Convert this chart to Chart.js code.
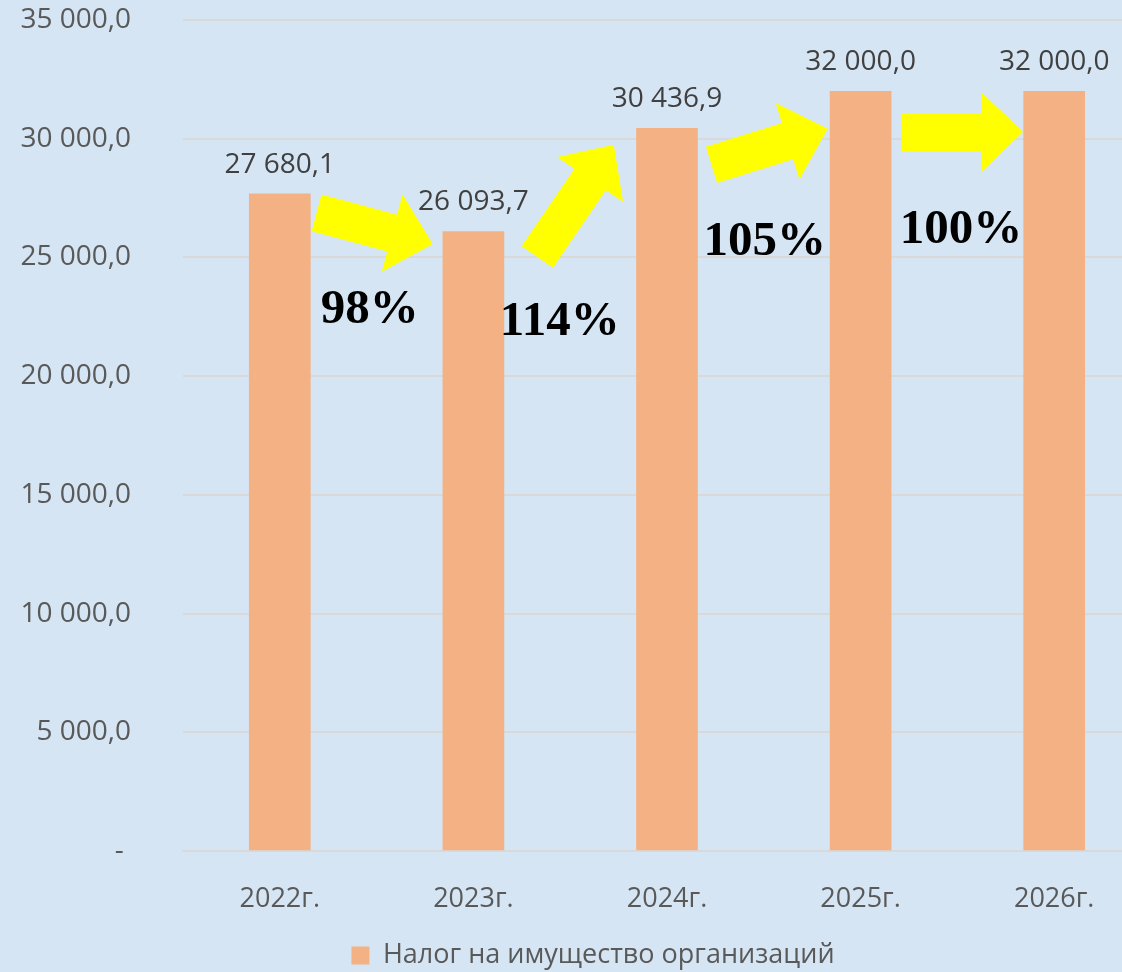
<!DOCTYPE html>
<html lang="ru">
<head>
  <meta charset="UTF-8" />
  <title>Налог на имущество организаций</title>
  <script src="https://cdn.jsdelivr.net/npm/chart.js"></script>
  <style>
    body { margin: 0; padding: 0; background: #D5E5F3; overflow: hidden; }
    .wrap { position: relative; width: 1186px; height: 972px; }
  </style>
</head>
<body>
  <div class="wrap"><canvas id="taxChart"></canvas></div>

  <script>
    const years = ['2022г.', '2023г.', '2024г.', '2025г.', '2026г.'];
    const tax = [27680.1, 26093.7, 30436.9, 32000.0, 32000.0];
    const growth = ['98%', '114%', '105%', '100%'];
    const seriesName = 'Налог на имущество организаций';

    // arrows and growth labels, placed in axis units (category index, value)
    const arrowTail = [[0.19, 26875], [1.33, 25020], [2.23, 28900], [3.21, 30271]];
    const arrowTip  = [[0.79, 25570], [1.725, 29745], [2.83, 30419], [3.84, 30292]];
    const growthAt  = [[0.465, 22783], [1.446, 22276], [2.505, 25650], [3.518, 26158]];

    const TXT = '#595959';
    const SANS = "'Open Sans', sans-serif";

    // 35000 -> "35 000,0"
    function fmt(v) {
      const [i, d] = v.toFixed(1).split('.');
      return i.replace(/\B(?=(\d{3})+(?!\d))/g, ' ') + ',' + d;
    }

    // value labels above bars
    const valueLabels = {
      id: 'valueLabels',
      afterDatasetsDraw(chart) {
        const ctx = chart.ctx;
        ctx.save();
        ctx.font = '28px ' + SANS;
        ctx.fillStyle = '#404040';
        ctx.textAlign = 'center';
        ctx.textBaseline = 'middle';
        chart.getDatasetMeta(0).data.forEach((bar, i) => {
          ctx.fillText(fmt(tax[i]), bar.x, bar.y - 29);
        });
        ctx.restore();
      }
    };

    // yellow arrows + growth percents
    const arrows = {
      id: 'arrows',
      afterDatasetsDraw(chart) {
        const { ctx, scales: { x, y } } = chart;
        const px = p => [x.getPixelForValue(p[0]), y.getPixelForValue(p[1])];
        ctx.save();
        ctx.fillStyle = '#FFFF00';
        arrowTail.forEach((t, i) => {
          const [x0, y0] = px(t);
          const [x1, y1] = px(arrowTip[i]);
          const len = Math.hypot(x1 - x0, y1 - y0);
          const ux = (x1 - x0) / len, uy = (y1 - y0) / len;
          const nx = -uy, ny = ux;
          const sw = 19, hw = 40, hl = 42;
          const bx = x1 - ux * hl, by = y1 - uy * hl;
          ctx.beginPath();
          ctx.moveTo(x0 + nx * sw, y0 + ny * sw);
          ctx.lineTo(bx + nx * sw, by + ny * sw);
          ctx.lineTo(bx + nx * hw, by + ny * hw);
          ctx.lineTo(x1, y1);
          ctx.lineTo(bx - nx * hw, by - ny * hw);
          ctx.lineTo(bx - nx * sw, by - ny * sw);
          ctx.lineTo(x0 - nx * sw, y0 - ny * sw);
          ctx.closePath();
          ctx.fill();
        });
        ctx.font = "bold 49px 'Liberation Serif', 'Times New Roman', serif";
        ctx.fillStyle = '#000000';
        ctx.textAlign = 'center';
        ctx.textBaseline = 'middle';
        growth.forEach((g, i) => {
          const [gx, gy] = px(growthAt[i]);
          ctx.fillText(g, gx, gy);
        });
        ctx.restore();
      }
    };

    new Chart(document.getElementById('taxChart'), {
      type: 'bar',
      data: {
        labels: years,
        datasets: [{
          label: seriesName,
          data: tax,
          backgroundColor: '#F4B183',
          barThickness: 61
        }]
      },
      options: {
        responsive: true,
        maintainAspectRatio: false,
        animation: false,
        layout: { padding: { top: 20, bottom: -7 } },
        plugins: {
          tooltip: { enabled: false },
          legend: {
            position: 'bottom',
            labels: { color: TXT, font: { family: SANS, size: 27 }, boxWidth: 18, boxHeight: 18, padding: 0 }
          }
        },
        scales: {
          x: {
            grid: { display: false },
            border: { color: '#D9D9D9', width: 2 },
            ticks: { color: TXT, font: { family: SANS, size: 27 }, padding: 24 },
            afterFit: s => { s.height = 91; }
          },
          y: {
            min: 0, max: 35000,
            grid: { color: '#D9D9D9', lineWidth: 2, drawTicks: false },
            border: { display: false },
            ticks: {
              stepSize: 5000, color: TXT, font: { family: SANS, size: 28 }, padding: 52,
              callback: v => v === 0 ? '- ' : fmt(v)
            },
            // tick padding would otherwise also be added above the plot
            afterFit: s => { s.width = 183; s.paddingTop = 0; s.paddingBottom = 0; }
          },
          // empty spacer on the right, the plot runs past the page edge
          y2: {
            type: 'linear', position: 'right', display: true,
            grid: { display: false }, border: { display: false },
            ticks: { display: false },
            afterFit: s => { s.width = 35; s.paddingTop = 0; s.paddingBottom = 0; }
          }
        }
      },
      plugins: [valueLabels, arrows]
    });
  </script>
</body>
</html>
